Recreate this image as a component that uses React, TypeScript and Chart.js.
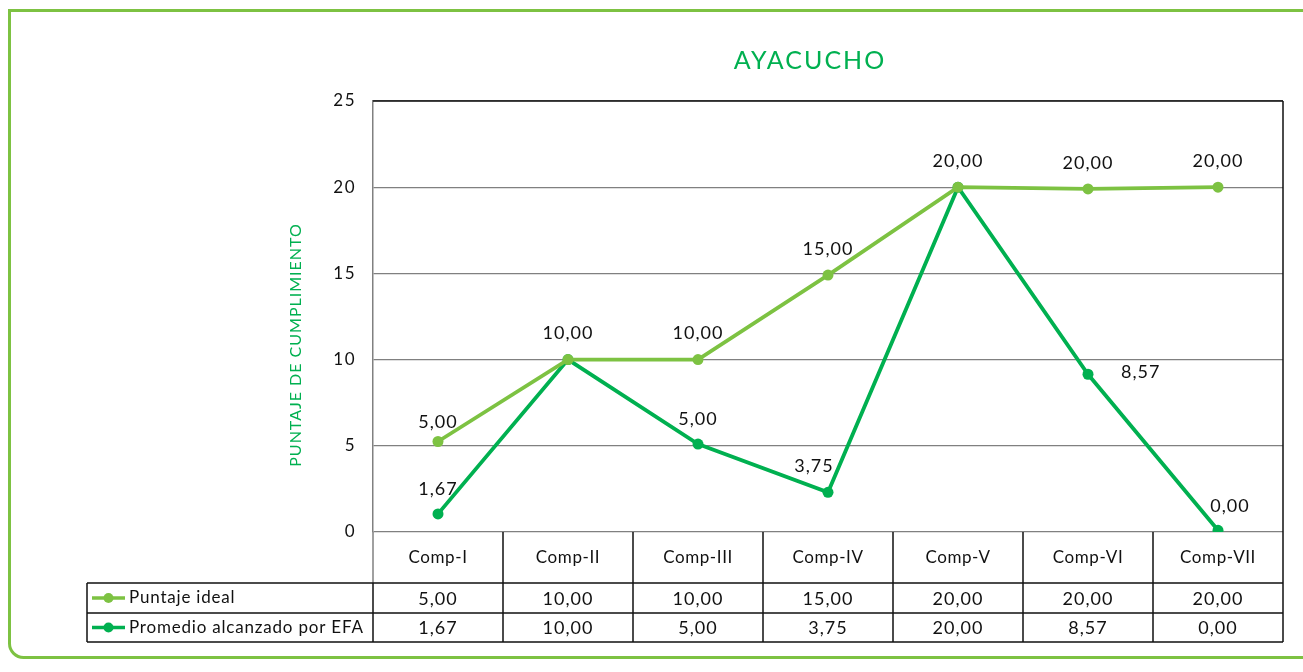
import React, { useEffect, useRef } from 'react';
import { Chart, registerables } from 'chart.js';

Chart.register(...registerables);

const chartTitle = 'AYACUCHO';
const yAxisTitle = 'PUNTAJE DE CUMPLIMIENTO';
const categories = ['Comp-I', 'Comp-II', 'Comp-III', 'Comp-IV', 'Comp-V', 'Comp-VI', 'Comp-VII'];
const seriesNames = ['Puntaje ideal', 'Promedio alcanzado por EFA'];
// plotted positions
const idealValues = [5.25, 10, 10, 14.9, 20, 19.9, 20];
const efaValues = [1.05, 10, 5.1, 2.3, 20, 9.15, 0.1];
// values printed in the labels and table
const idealText = ['5,00', '10,00', '10,00', '15,00', '20,00', '20,00', '20,00'];
const efaText = ['1,67', '10,00', '5,00', '3,75', '20,00', '8,57', '0,00'];
const efaLabelShown = [true, false, true, true, false, true, true];
const yTicks = [0, 5, 10, 15, 20, 25];
const yMin = 0;
const yMax = 25;
const yStep = 5;

const LIGHT = '#7dc242';
const DARK = '#00b050';
const FONT = 'Lato, "Open Sans", sans-serif';

function setSpacing(ctx: any, px: number) {
  ctx.letterSpacing = `${px}px`;
}

const customPlugin = {
  id: 'customDraw',
  beforeDraw(chart: any) {
    const ctx = chart.ctx;
    ctx.save();
    ctx.fillStyle = '#ffffff';
    ctx.fillRect(0, 0, chart.width, chart.height);
    ctx.strokeStyle = LIGHT;
    ctx.lineWidth = 3;
    ctx.beginPath();
    (ctx as any).roundRect(9.5, 10.5, 1330, 647, [0, 0, 0, 14]);
    ctx.stroke();
    ctx.restore();
  },
  afterDraw(chart: any) {
    const ctx = chart.ctx;
    const area = chart.chartArea;
    const xs = chart.scales.x;
    const ys = chart.scales.y;
    const left = area.left;
    const right = area.right;
    const n = categories.length;
    const catW = (right - left) / n;
    const rowTop = area.bottom;
    const catBottom = rowTop + 51;
    const row1Bottom = catBottom + 30;
    const row2Bottom = row1Bottom + 29;
    const tableLeft = 87;

    ctx.save();
    // plot border top / right
    ctx.strokeStyle = '#111';
    ctx.lineWidth = 1.5;
    ctx.beginPath();
    ctx.moveTo(left, area.top);
    ctx.lineTo(right, area.top);
    ctx.moveTo(right, area.top);
    ctx.lineTo(right, row2Bottom);
    ctx.stroke();

    // left axis continuation in category row
    ctx.strokeStyle = '#808080';
    ctx.lineWidth = 1.5;
    ctx.beginPath();
    ctx.moveTo(left, rowTop);
    ctx.lineTo(left, catBottom);
    ctx.stroke();

    // table lines
    ctx.strokeStyle = '#111';
    ctx.lineWidth = 1.5;
    ctx.beginPath();
    for (let i = 1; i < n; i++) {
      const x = left + i * catW;
      ctx.moveTo(x, rowTop);
      ctx.lineTo(x, row2Bottom);
    }
    ctx.moveTo(left, catBottom);
    ctx.lineTo(left, row2Bottom);
    ctx.moveTo(tableLeft, catBottom);
    ctx.lineTo(tableLeft, row2Bottom);
    ctx.moveTo(tableLeft, catBottom);
    ctx.lineTo(right, catBottom);
    ctx.moveTo(tableLeft, row1Bottom);
    ctx.lineTo(right, row1Bottom);
    ctx.moveTo(tableLeft, row2Bottom);
    ctx.lineTo(right, row2Bottom);
    ctx.stroke();

    // y tick labels
    ctx.fillStyle = '#111';
    ctx.font = `17px ${FONT}`;
    setSpacing(ctx, 1.5);
    ctx.textAlign = 'right';
    ctx.textBaseline = 'middle';
    yTicks.forEach((t) => {
      ctx.fillText(String(t), left - 17, ys.getPixelForValue(t));
    });

    // table texts
    ctx.textAlign = 'center';
    categories.forEach((c, i) => {
      const x = xs.getPixelForValue(i);
      ctx.font = `17px ${FONT}`;
      setSpacing(ctx, 0.6);
      ctx.fillText(c, x, (rowTop + catBottom) / 2);
      ctx.font = `18px ${FONT}`;
      setSpacing(ctx, 1);
      ctx.fillText(idealText[i], x, (catBottom + row1Bottom) / 2 + 1);
      ctx.fillText(efaText[i], x, (row1Bottom + row2Bottom) / 2 + 1);
    });

    // legend keys in table
    const keys = [
      { color: LIGHT, y: (catBottom + row1Bottom) / 2, name: seriesNames[0] },
      { color: DARK, y: (row1Bottom + row2Bottom) / 2, name: seriesNames[1] },
    ];
    ctx.font = `17px ${FONT}`;
    setSpacing(ctx, 0.8);
    keys.forEach((k) => {
      ctx.strokeStyle = k.color;
      ctx.lineWidth = 3.5;
      ctx.beginPath();
      ctx.moveTo(92, k.y);
      ctx.lineTo(125, k.y);
      ctx.stroke();
      ctx.fillStyle = k.color;
      ctx.beginPath();
      ctx.arc(108.5, k.y, 5, 0, Math.PI * 2);
      ctx.fill();
      ctx.fillStyle = '#111';
      ctx.textAlign = 'left';
      ctx.fillText(k.name, 129, k.y);
    });

    // data labels
    ctx.font = `18px ${FONT}`;
    setSpacing(ctx, 1);
    ctx.fillStyle = '#111';
    ctx.textBaseline = 'middle';
    idealValues.forEach((v, i) => {
      const x = xs.getPixelForValue(i);
      const y = ys.getPixelForValue(v);
      ctx.textAlign = 'center';
      ctx.fillText(idealText[i], x, y - (i === 0 ? 19 : 26));
    });
    efaValues.forEach((v, i) => {
      if (!efaLabelShown[i]) return;
      const x = xs.getPixelForValue(i);
      const y = ys.getPixelForValue(v);
      if (i === 5) {
        ctx.textAlign = 'left';
        ctx.fillText(efaText[i], x + 33, y - 2);
      } else if (i === 3) {
        ctx.textAlign = 'center';
        ctx.fillText(efaText[i], x - 14, y - 26);
      } else if (i === 6) {
        ctx.textAlign = 'center';
        ctx.fillText(efaText[i], x + 12, y - 24);
      } else {
        ctx.textAlign = 'center';
        ctx.fillText(efaText[i], x, y - 25);
      }
    });

    // title
    ctx.font = `25px ${FONT}`;
    setSpacing(ctx, 2);
    ctx.fillStyle = DARK;
    ctx.textAlign = 'center';
    ctx.fillText(chartTitle, 810, 61);

    // y axis title
    ctx.font = `16px ${FONT}`;
    setSpacing(ctx, 1);
    ctx.translate(296, 345);
    ctx.rotate(-Math.PI / 2);
    ctx.fillText(yAxisTitle, 0, 0);
    setSpacing(ctx, 0);
    ctx.restore();
  },
};

export default function App() {
  const canvasRef = useRef<HTMLCanvasElement | null>(null);

  useEffect(() => {
    if (!canvasRef.current) return;
    const chart = new Chart(canvasRef.current, {
      type: 'line',
      data: {
        labels: categories,
        datasets: [
          {
            label: seriesNames[0],
            data: idealValues,
            borderColor: LIGHT,
            backgroundColor: LIGHT,
            borderWidth: 3.8,
            pointRadius: 5.5,
            pointBorderWidth: 0,
            pointBackgroundColor: LIGHT,
            tension: 0,
          },
          {
            label: seriesNames[1],
            data: efaValues,
            borderColor: DARK,
            backgroundColor: DARK,
            borderWidth: 3.8,
            pointRadius: 5.5,
            pointBorderWidth: 0,
            pointBackgroundColor: DARK,
            tension: 0,
          },
        ],
      },
      options: {
        responsive: false,
        animation: false,
        events: [],
        layout: { padding: { left: 0, top: 101, right: 20, bottom: 140 } },
        plugins: {
          legend: { display: false },
          title: { display: false },
          tooltip: { enabled: false },
        },
        scales: {
          x: { display: false, offset: true },
          y: {
            min: yMin,
            max: yMax,
            afterFit: (scale: any) => {
              scale.width = 373;
            },
            ticks: { stepSize: yStep, display: false },
            grid: { color: '#808080', lineWidth: 1.3, drawTicks: false },
            border: { color: '#808080', width: 1.5 },
          },
        },
      },
      plugins: [customPlugin],
    });
    return () => chart.destroy();
  }, []);

  return (
    <div style={{ position: 'fixed', left: 0, top: 0, width: 1303, height: 672, background: '#fff' }}>
      <canvas ref={canvasRef} width={1303} height={672} style={{ display: 'block', width: 1303, height: 672 }} />
    </div>
  );
}
